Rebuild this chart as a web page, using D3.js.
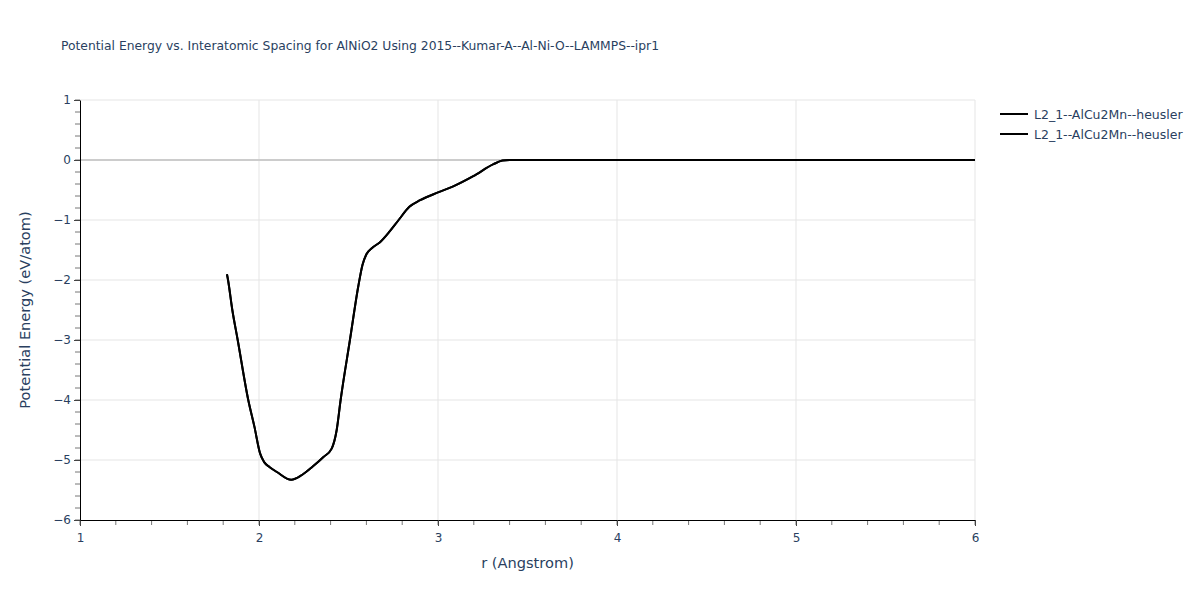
<!DOCTYPE html>
<html><head><meta charset="utf-8">
<script src="https://cdn.jsdelivr.net/npm/d3@7"></script>
<style>body{margin:0;background:#fff;} svg{display:block;} text{font-family:"DejaVu Sans",Verdana,sans-serif;}</style>
</head><body><svg id="c" width="1200" height="600"></svg>
<script>
const title = "Potential Energy vs. Interatomic Spacing for AlNiO2 Using 2015--Kumar-A--Al-Ni-O--LAMMPS--ipr1";
const seriesNames = ["L2_1--AlCu2Mn--heusler", "L2_1--AlCu2Mn--heusler"];
const rValues = [1.821,1.827,1.851,1.881,1.94,1.974,2.006,2.03,2.06,2.10,2.18,2.24,2.30,2.36,2.406,2.434,2.456,2.508,2.555,2.578,2.60,2.63,2.676,2.73,2.78,2.84,2.90,3.0,3.085,3.197,3.31,3.36,3.40,3.5,4.0,4.5,5.0,5.5,6.0];
const eValues = [-1.905,-2.0,-2.5,-3.0,-4.0,-4.44,-4.89,-5.04,-5.12,-5.2,-5.33,-5.25,-5.11,-4.95,-4.81,-4.5,-4.0,-3.0,-2.1,-1.75,-1.57,-1.47,-1.37,-1.19,-1.0,-0.78,-0.67,-0.54,-0.44,-0.27,-0.07,-0.01,0,0,0,0,0,0,0];
const xTicks = [1,2,3,4,5,6];
const yTicks = [1,0,-1,-2,-3,-4,-5,-6];

const FONT = '"DejaVu Sans",Verdana,sans-serif';
const svg = d3.select("#c");
const m = {l:80, r:975, t:100, b:520};
const x = d3.scaleLinear().domain([1,6]).range([m.l, m.r]);
const y = d3.scaleLinear().domain([-6,1]).range([m.b, m.t]);

// grid
svg.append("g").selectAll("line").data(xTicks.filter(d=>d>1)).join("line")
  .attr("x1",d=>x(d)).attr("x2",d=>x(d)).attr("y1",m.t).attr("y2",m.b)
  .attr("stroke","#e5e5e5").attr("stroke-width",1);
svg.append("g").selectAll("line").data(yTicks.filter(d=>d!==-6 && d!==0)).join("line")
  .attr("x1",m.l).attr("x2",m.r).attr("y1",d=>y(d)).attr("y2",d=>y(d))
  .attr("stroke","#e5e5e5").attr("stroke-width",1);
svg.append("line").attr("x1",m.l).attr("x2",m.r).attr("y1",y(0)).attr("y2",y(0))
  .attr("stroke","#cccccc").attr("stroke-width",2);

// minor ticks
const minorX = d3.range(1,6.001,0.2).map(v=>+v.toFixed(2));
svg.append("g").selectAll("line").data(minorX).join("line")
  .attr("x1",d=>x(d)).attr("x2",d=>x(d)).attr("y1",m.b).attr("y2",m.b+5)
  .attr("stroke","#777").attr("stroke-width",1);
const minorY = d3.range(-6,1.001,0.2).map(v=>+v.toFixed(2));
svg.append("g").selectAll("line").data(minorY).join("line")
  .attr("x1",m.l-5).attr("x2",m.l).attr("y1",d=>y(d)).attr("y2",d=>y(d))
  .attr("stroke","#777").attr("stroke-width",1);

// axes
const xAxis = d3.axisBottom(x).tickValues(xTicks).tickSize(6).tickSizeOuter(0).tickFormat(d3.format("d"));
const gx = svg.append("g").attr("transform",`translate(0,${m.b})`).call(xAxis);
gx.select(".domain").attr("stroke","#000").attr("stroke-width",1);
gx.selectAll(".tick line").attr("stroke","#444");
gx.selectAll(".tick text").attr("fill","#2a3f5f").attr("font-size",12).attr("dy","1.1em")
  .style("font-family",FONT);

const yAxis = d3.axisLeft(y).tickValues(yTicks).tickSize(6).tickSizeOuter(0).tickFormat(d=>d<0?"\u2212"+Math.abs(d):d);
const gy = svg.append("g").attr("transform",`translate(${m.l},0)`).call(yAxis);
gy.select(".domain").attr("stroke","#000").attr("stroke-width",1);
gy.selectAll(".tick line").attr("stroke","#444");
gy.selectAll(".tick text").attr("fill","#2a3f5f").attr("font-size",12)
  .style("font-family",FONT);

// lines
const pts = rValues.map((r,i)=>[r,eValues[i]]);
const line = d3.line().x(d=>x(d[0])).y(d=>y(d[1])).curve(d3.curveMonotoneX);
seriesNames.forEach(()=>{
  svg.append("path").datum(pts).attr("d",line).attr("fill","none")
    .attr("stroke","#000").attr("stroke-width",2);
});

// titles
svg.append("text").attr("x",61).attr("y",50).attr("font-size",12.33).attr("fill","#2a3f5f").text(title);
svg.append("text").attr("x",(m.l+m.r)/2).attr("y",568).attr("text-anchor","middle")
  .attr("font-size",14.6).attr("fill","#2a3f5f").text("r (Angstrom)");
svg.append("text").attr("transform",`translate(30,${(m.t+m.b)/2}) rotate(-90)`).attr("text-anchor","middle")
  .attr("font-size",14.6).attr("fill","#2a3f5f").text("Potential Energy (eV/atom)");

// legend
const lg = svg.append("g");
seriesNames.forEach((n,i)=>{
  const yy = 114 + i*20;
  lg.append("line").attr("x1",1000).attr("x2",1028).attr("y1",yy).attr("y2",yy).attr("stroke","#000").attr("stroke-width",2);
  lg.append("text").attr("x",1034).attr("y",yy+4.5).attr("font-size",12.5).attr("fill","#2a3f5f").text(n);
});
</script></body></html>
